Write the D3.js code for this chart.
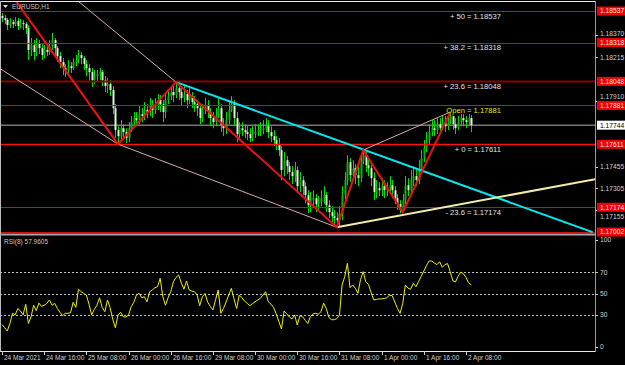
<!DOCTYPE html>
<html>
<head>
<meta charset="utf-8">
<script src="https://d3js.org/d3.v7.min.js"></script>
<style>
    html, body { margin: 0; padding: 0; background: #000; }
    svg { display: block; }
    text { font-family: "Liberation Sans", Arial, sans-serif; }
</style>
</head>
<body>
<div id="chart"></div>
<script>
// ---- data (EURUSD H1, one value per bar) ----
const openFirst = 1.18502;
const closes = [
    1.18488,1.18474,1.18439,1.18460,1.18446,1.18467,1.18432,1.18453,1.18446,1.18418,
    1.18266,1.18300,1.18252,1.18307,1.18279,1.18231,1.18266,1.18252,1.18293,1.18335,
    1.18279,1.18224,1.18182,1.18140,1.18127,1.18154,1.18140,1.18182,1.18196,1.18231,
    1.18210,1.18168,1.18140,1.18113,1.18057,1.18085,1.18099,1.18113,1.18057,1.18016,
    1.18029,1.17988,1.17862,1.17710,1.17668,1.17723,1.17696,1.17654,1.17723,1.17765,
    1.17793,1.17779,1.17821,1.17807,1.17849,1.17835,1.17883,1.17849,1.17876,1.17918,
    1.17890,1.17835,1.17918,1.17946,1.17974,1.17953,1.18001,1.17974,1.17932,1.17960,
    1.17918,1.17946,1.17904,1.17890,1.17862,1.17793,1.17849,1.17883,1.17835,1.17793,
    1.17765,1.17814,1.17862,1.17744,1.17723,1.17779,1.17849,1.17890,1.17793,1.17682,
    1.17723,1.17710,1.17696,1.17682,1.17654,1.17682,1.17696,1.17710,1.17710,1.17723,
    1.17737,1.17696,1.17668,1.17640,1.17612,1.17571,1.17432,1.17501,1.17459,1.17418,
    1.17390,1.17432,1.17320,1.17362,1.17320,1.17258,1.17188,1.17223,1.17237,1.17195,
    1.17209,1.17237,1.17258,1.17188,1.17140,1.17112,1.17098,1.17084,1.17126,1.17258,
    1.17362,1.17487,1.17397,1.17445,1.17397,1.17376,1.17501,1.17536,1.17466,1.17445,
    1.17376,1.17279,1.17306,1.17292,1.17320,1.17292,1.17306,1.17327,1.17292,1.17237,
    1.17195,1.17154,1.17223,1.17327,1.17292,1.17362,1.17390,1.17362,1.17445,1.17515,
    1.17584,1.17640,1.17696,1.17723,1.17710,1.17751,1.17723,1.17765,1.17737,1.17779,
    1.17807,1.17751,1.17723,1.17765,1.17793,1.17779,1.17765,1.17793,1.17744
];
const highs = [
    1.18523,1.18509,1.18488,1.18488,1.18474,1.18495,1.18488,1.18481,1.18474,1.18460,
    1.18439,1.18349,1.18335,1.18349,1.18335,1.18307,1.18300,1.18307,1.18335,1.18384,
    1.18349,1.18293,1.18252,1.18210,1.18168,1.18196,1.18182,1.18210,1.18231,1.18266,
    1.18252,1.18224,1.18196,1.18168,1.18140,1.18127,1.18127,1.18140,1.18127,1.18085,
    1.18071,1.18057,1.18016,1.17890,1.17737,1.17779,1.17751,1.17723,1.17765,1.17807,
    1.17835,1.17835,1.17876,1.17862,1.17904,1.17890,1.17932,1.17918,1.17932,1.17960,
    1.17953,1.17918,1.17960,1.17988,1.18016,1.18016,1.18043,1.18029,1.18001,1.18016,
    1.17988,1.18001,1.17974,1.17946,1.17918,1.17890,1.17890,1.17932,1.17918,1.17862,
    1.17835,1.17862,1.17932,1.17890,1.17793,1.17835,1.17904,1.17946,1.17918,1.17835,
    1.17765,1.17765,1.17751,1.17737,1.17723,1.17737,1.17751,1.17751,1.17765,1.17779,
    1.17793,1.17779,1.17737,1.17710,1.17668,1.17654,1.17598,1.17557,1.17529,1.17487,
    1.17459,1.17487,1.17459,1.17418,1.17390,1.17348,1.17292,1.17279,1.17292,1.17265,
    1.17251,1.17292,1.17320,1.17279,1.17223,1.17181,1.17154,1.17140,1.17181,1.17320,
    1.17418,1.17536,1.17515,1.17501,1.17473,1.17459,1.17543,1.17571,1.17557,1.17515,
    1.17487,1.17418,1.17362,1.17348,1.17376,1.17362,1.17348,1.17390,1.17362,1.17320,
    1.17265,1.17223,1.17265,1.17390,1.17376,1.17432,1.17459,1.17445,1.17501,1.17571,
    1.17640,1.17696,1.17751,1.17779,1.17779,1.17793,1.17793,1.17807,1.17807,1.17821,
    1.17835,1.17807,1.17793,1.17807,1.17821,1.17821,1.17807,1.17821,1.17814
];
const lows = [
    1.18460,1.18446,1.18405,1.18418,1.18418,1.18432,1.18405,1.18418,1.18405,1.18377,
    1.18196,1.18224,1.18196,1.18224,1.18238,1.18196,1.18210,1.18224,1.18231,1.18266,
    1.18224,1.18182,1.18140,1.18092,1.18078,1.18099,1.18106,1.18127,1.18154,1.18175,
    1.18168,1.18127,1.18085,1.18057,1.18008,1.18029,1.18043,1.18057,1.18016,1.17974,
    1.17967,1.17946,1.17821,1.17654,1.17612,1.17640,1.17654,1.17619,1.17626,1.17696,
    1.17737,1.17737,1.17751,1.17765,1.17779,1.17793,1.17807,1.17793,1.17821,1.17849,
    1.17835,1.17765,1.17793,1.17890,1.17918,1.17904,1.17932,1.17918,1.17876,1.17904,
    1.17862,1.17890,1.17862,1.17835,1.17807,1.17751,1.17765,1.17821,1.17793,1.17737,
    1.17723,1.17737,1.17793,1.17696,1.17668,1.17682,1.17751,1.17835,1.17737,1.17626,
    1.17640,1.17668,1.17654,1.17640,1.17626,1.17633,1.17654,1.17668,1.17668,1.17682,
    1.17696,1.17654,1.17626,1.17598,1.17571,1.17529,1.17362,1.17390,1.17404,1.17362,
    1.17334,1.17348,1.17272,1.17279,1.17258,1.17202,1.17133,1.17140,1.17167,1.17140,
    1.17154,1.17181,1.17195,1.17140,1.17098,1.17070,1.17056,1.17035,1.17042,1.17084,
    1.17223,1.17327,1.17348,1.17362,1.17334,1.17320,1.17348,1.17473,1.17418,1.17390,
    1.17320,1.17223,1.17237,1.17251,1.17251,1.17237,1.17251,1.17265,1.17237,1.17195,
    1.17154,1.17133,1.17140,1.17195,1.17251,1.17265,1.17320,1.17320,1.17334,1.17418,
    1.17487,1.17557,1.17612,1.17668,1.17668,1.17682,1.17682,1.17710,1.17696,1.17710,
    1.17751,1.17710,1.17682,1.17710,1.17737,1.17737,1.17723,1.17737,1.17696
];
const rsi = [
    21,18,15,22,31.5,30,36,33.6,30,40,
    22,28,39,34,41,38,39,40.8,44,39,
    40.8,36,32.4,29.3,31.5,31.5,32,41.8,37,54,
    51.7,50,48.6,40,30,35,39,46,37,33,
    44,36.7,26,18,30,32.4,28.3,28,30,37.7,
    41.8,48.6,50.2,46,47,42.3,51.7,53.3,55.4,56.4,
    64.2,47,39,46,51.7,61,65,67.3,60,54,
    61.7,53.3,52.3,51.7,48.6,38.6,47,50,42,38,
    34.6,44,53.3,31.5,36,42,48.6,54.8,45,36,
    48.6,46,43,40.8,38.6,40.5,42.3,44,45.5,48.6,
    51.7,42.3,40,37,31,24,16.8,33.6,31,28,
    26.2,30,20.6,29.3,28.3,25,22,28.5,31,31.5,
    30.6,33,41,36,27.5,25.5,25.5,26.5,30,58,
    65.7,78.2,55.4,58,55,50.2,63,70.4,61,58.5,
    51,44,44.5,44.9,45,45.3,46,48.5,48,42,
    36,31.5,40.8,58,55,54,59.5,56.4,61,66,
    71,76,80.4,80.4,78.5,77,79.7,74.5,77,78,
    70.4,62,60.8,66,70,68.5,65,60,57.96
];

// time axis
const timeTickBars = [0, 16, 32, 48, 64, 80, 96, 112, 128, 144, 160, 176];
const timeTickLabels = ["24 Mar 2021", "24 Mar 16:00", "25 Mar 08:00", "26 Mar 00:00", "26 Mar 16:00",
    "29 Mar 08:00", "30 Mar 00:00", "30 Mar 16:00", "31 Mar 08:00", "1 Apr 00:00", "1 Apr 16:00", "2 Apr 08:00"];

// price axis (labels not covered by the level boxes)
const priceTicks = [1.18370, 1.18215, 1.17910, 1.17455, 1.17305, 1.17155];
const bidPrice = 1.17744;

// fibonacci levels
const fibNames = ["+ 50", "+ 38.2", "+ 23.6", "Open", "+ 0", "- 23.6"];
const fibValues = [1.18537, 1.18318, 1.18048, 1.17881, 1.17611, 1.17174];
const extraLevel = 1.17002;

// rsi levels
const rsiLevels = [70, 50, 30];
const rsiAxisTicks = [100, 70, 50, 30, 0];
const rsiLabel = "RSI(8) 57.9605";

// drawn objects: [bar, price]
const zigzag = [[5, 1.18613], [44, 1.17612], [66, 1.18043], [127, 1.17035], [137, 1.17571], [152, 1.17140], [170, 1.17835]];
const cyanLine = [[66, 1.18043], [224, 1.17001]];
const supportLine = [[127, 1.17035], [225, 1.17369]];
const channelLines = [
    [[26, 1.18649], [66, 1.18043]],
    [[-1, 1.18140], [44, 1.17612]],
    [[44, 1.17612], [127, 1.17035]],
    [[137, 1.17571], [170, 1.17835]]
];

// ---- layout ----
const W = 625, H = 365;
const axisX = 595;
const mainTop = 2, mainBottom = 233;
const rsiTop = 236, rsiBottom = 351;

const svg = d3.select("#chart").append("svg")
    .attr("width", W)
    .attr("height", H);

svg.append("rect").attr("width", W).attr("height", H).attr("fill", "#000");

// scales
const x = d3.scaleLinear().domain([0, 176]).range([2, 466]);
const y = d3.scaleLinear().domain([1.17002, 1.18537]).range([232, 11]);
const yR = d3.scaleLinear().domain([0, 100]).range([347, 240]);

const defs = svg.append("defs");
defs.append("clipPath").attr("id", "main-clip")
    .append("rect").attr("x", 1).attr("y", mainTop).attr("width", axisX - 1).attr("height", mainBottom - mainTop);
defs.append("clipPath").attr("id", "rsi-clip")
    .append("rect").attr("x", 1).attr("y", rsiTop).attr("width", axisX - 1).attr("height", rsiBottom - rsiTop);

const main = svg.append("g").attr("clip-path", "url(#main-clip)");

// bid line
main.append("line")
    .attr("x1", 0).attr("x2", axisX)
    .attr("y1", y(bidPrice)).attr("y2", y(bidPrice))
    .attr("stroke", "#b4b4b4").attr("stroke-width", 1);

// candles
const bars = closes.map((c, i) => {
    let o = i === 0 ? openFirst : closes[i - 1];
    return {
        i: i, o: o, c: c,
        h: Math.max(highs[i], o, c),
        l: Math.min(lows[i], o, c)
    };
});

const candle = main.append("g").attr("class", "candles")
    .selectAll("g")
    .data(bars)
    .enter()
    .append("g");

candle.append("line")
    .attr("x1", d => Math.round(x(d.i)) + 0.5)
    .attr("x2", d => Math.round(x(d.i)) + 0.5)
    .attr("y1", d => y(d.h))
    .attr("y2", d => y(d.l))
    .attr("stroke", "#00e000")
    .attr("stroke-width", 1);

candle.append("rect")
    .attr("x", d => Math.round(x(d.i)) - 0.5)
    .attr("width", 2)
    .attr("y", d => y(Math.max(d.o, d.c)))
    .attr("height", d => Math.max(1, Math.abs(y(d.o) - y(d.c))))
    .attr("fill", d => d.c >= d.o ? "#10b010" : "#d6f8cc");

// fibonacci / level lines
const levelColor = (i) => i === 2 ? "#8a0000" : (i === 4 ? "#ff1010" : "#c81414");
const levelWidth = (i) => i === 2 ? 2 : (i === 4 ? 1.6 : 1);

main.selectAll(".fib-line")
    .data(fibValues.concat([extraLevel]))
    .enter()
    .append("line")
    .attr("class", "fib-line")
    .attr("x1", 0).attr("x2", axisX)
    .attr("y1", d => Math.round(y(d)) + 0.5)
    .attr("y2", d => Math.round(y(d)) + 0.5)
    .attr("stroke", (d, i) => levelColor(i))
    .attr("stroke-width", (d, i) => levelWidth(i));

// trend objects
const line = d3.line().x(d => x(d[0])).y(d => y(d[1]));

channelLines.forEach(seg => {
    main.append("path")
        .attr("d", line(seg))
        .attr("fill", "none")
        .attr("stroke", "#dcaaaa")
        .attr("stroke-width", 1);
});

main.append("path")
    .attr("d", line(cyanLine))
    .attr("fill", "none")
    .attr("stroke", "#00e8f0")
    .attr("stroke-width", 2);

main.append("path")
    .attr("d", line(supportLine))
    .attr("fill", "none")
    .attr("stroke", "#f4eaa8")
    .attr("stroke-width", 2);

main.append("path")
    .attr("d", line(zigzag))
    .attr("fill", "none")
    .attr("stroke", "#f01010")
    .attr("stroke-width", 2);

// fib texts
main.selectAll(".fib-text")
    .data(fibValues)
    .enter()
    .append("text")
    .attr("class", "fib-text")
    .attr("x", 501)
    .attr("y", d => y(d) + 7.5)
    .attr("text-anchor", "end")
    .attr("font-size", "7.6px")
    .attr("fill", (d, i) => fibNames[i] === "Open" ? "#e6e600" : "#e4e4e4")
    .text((d, i) => `${fibNames[i]} = ${d.toFixed(5)}`);

// title
svg.append("path")
    .attr("d", "M3,5 L8,5 L5.5,8 Z")
    .attr("fill", "#e0e0e0");
svg.append("text")
    .attr("x", 12).attr("y", 9)
    .attr("font-size", "6.5px")
    .attr("fill", "#c8c8c8")
    .text("EURUSD,H1");

// ---- RSI pane ----
const rsiG = svg.append("g").attr("clip-path", "url(#rsi-clip)");

rsiG.selectAll(".rsi-level")
    .data(rsiLevels)
    .enter()
    .append("line")
    .attr("x1", 0).attr("x2", axisX)
    .attr("y1", d => Math.round(yR(d)) + 0.5)
    .attr("y2", d => Math.round(yR(d)) + 0.5)
    .attr("stroke", "#c0c0c0")
    .attr("stroke-width", 1)
    .attr("stroke-dasharray", "2,2");

rsiG.append("path")
    .datum(rsi)
    .attr("d", d3.line().x((d, i) => x(i)).y(d => yR(d)))
    .attr("fill", "none")
    .attr("stroke", "#f0f000")
    .attr("stroke-width", 1);

svg.append("text")
    .attr("x", 4).attr("y", 243.5)
    .attr("font-size", "6.5px")
    .attr("fill", "#c8c8c8")
    .text(rsiLabel);

// ---- frames ----
const frame = svg.append("g").attr("stroke-width", 1);
frame.append("line").attr("x1", 0).attr("x2", axisX).attr("y1", 1.5).attr("y2", 1.5).attr("stroke", "#e8e8e8");
frame.append("line").attr("x1", 0.5).attr("x2", 0.5).attr("y1", 1).attr("y2", rsiBottom).attr("stroke", "#bdbdbd");
frame.append("line").attr("x1", 0).attr("x2", axisX).attr("y1", 234.5).attr("y2", 234.5)
    .attr("stroke", "#a8a8a8").attr("stroke-width", 2);
frame.append("line").attr("x1", 0).attr("x2", axisX).attr("y1", rsiBottom + 0.5).attr("y2", rsiBottom + 0.5).attr("stroke", "#e8e8e8");
frame.append("line").attr("x1", axisX + 0.5).attr("x2", axisX + 0.5).attr("y1", 1).attr("y2", rsiBottom + 1).attr("stroke", "#9a9a9a");

// price axis
const pAxis = svg.append("g");
const boxLevels = fibValues.concat([extraLevel, bidPrice]);

// push an axis label off a level box if the two would collide
const labelY = (p) => {
    let ty = y(p);
    boxLevels.forEach(b => {
        let by = y(b);
        if (Math.abs(ty - by) < 9) ty = ty < by ? by - 9 : by + 9.5;
    });
    return ty;
};

priceTicks.forEach(p => {
    pAxis.append("line")
        .attr("x1", axisX).attr("x2", axisX + 3)
        .attr("y1", Math.round(y(p)) + 0.5).attr("y2", Math.round(y(p)) + 0.5)
        .attr("stroke", "#c8c8c8");
    pAxis.append("text")
        .attr("x", axisX + 5).attr("y", labelY(p) + 2.4)
        .attr("font-size", "6.7px")
        .attr("fill", "#d0d0d0")
        .text(p.toFixed(5));
});

// red level boxes
fibValues.concat([extraLevel]).forEach(p => {
    pAxis.append("rect")
        .attr("x", axisX + 2).attr("y", y(p) - 4.5)
        .attr("width", 30).attr("height", 9)
        .attr("fill", "#f00000");
    pAxis.append("text")
        .attr("x", axisX + 5).attr("y", y(p) + 2.4)
        .attr("font-size", "6.7px")
        .attr("fill", "#ffe8e8")
        .text(p.toFixed(5));
});

// bid box
pAxis.append("rect")
    .attr("x", axisX + 2).attr("y", y(bidPrice) - 4.5)
    .attr("width", 30).attr("height", 9)
    .attr("fill", "#ffffff");
pAxis.append("text")
    .attr("x", axisX + 5).attr("y", y(bidPrice) + 2.4)
    .attr("font-size", "6.7px")
    .attr("fill", "#000")
    .text(bidPrice.toFixed(5));

// rsi axis
rsiAxisTicks.forEach(v => {
    pAxis.append("line")
        .attr("x1", axisX).attr("x2", axisX + 3)
        .attr("y1", Math.round(yR(v)) + 0.5).attr("y2", Math.round(yR(v)) + 0.5)
        .attr("stroke", "#c8c8c8");
    pAxis.append("text")
        .attr("x", axisX + 5).attr("y", yR(v) + 2.4)
        .attr("font-size", "6.7px")
        .attr("fill", "#d0d0d0")
        .text(v);
});

// time axis
const tAxis = svg.append("g");
timeTickBars.forEach((b, k) => {
    let tx = Math.round(x(b)) + 0.5;
    tAxis.append("line")
        .attr("x1", tx).attr("x2", tx)
        .attr("y1", rsiBottom).attr("y2", rsiBottom + 4)
        .attr("stroke", "#d0d0d0");
    tAxis.append("text")
        .attr("x", tx + 1.5).attr("y", 359.5)
        .attr("font-size", "6.5px")
        .attr("fill", "#d0d0d0")
        .text(timeTickLabels[k]);
});
</script>
</body>
</html>
